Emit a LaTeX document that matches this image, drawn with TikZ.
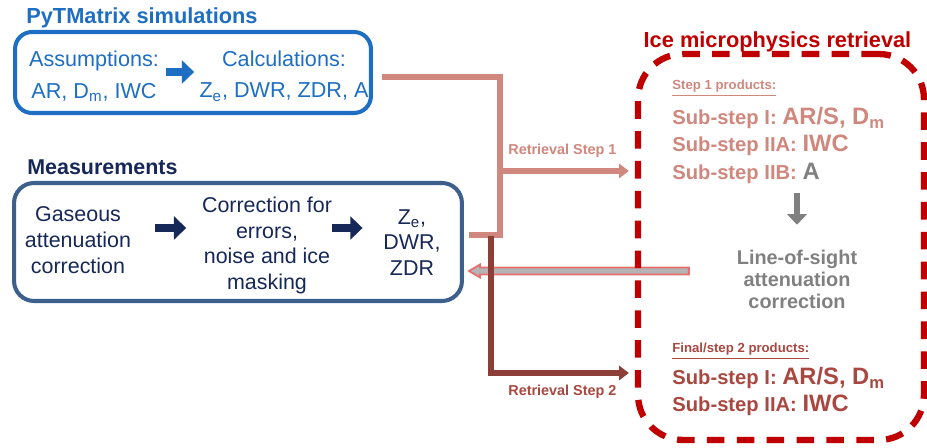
\documentclass[tikz,border=0pt]{standalone}
\usepackage{fontspec}
\setmainfont{Liberation Sans}
\usepackage{xcolor}
\usepackage{tikz}
\usetikzlibrary{positioning,calc,arrows.meta,backgrounds}

\definecolor{pyblue}{RGB}{30,110,195}
\definecolor{navy}{RGB}{22,40,88}
\definecolor{measframe}{RGB}{60,95,140}
\definecolor{salmon}{RGB}{208,135,125}
\definecolor{darkline}{RGB}{140,62,56}
\definecolor{finalred}{RGB}{168,72,64}
\definecolor{icered}{RGB}{192,0,0}
\definecolor{grey}{RGB}{128,128,128}
\definecolor{backgray}{RGB}{180,180,180}
\definecolor{backred}{RGB}{232,110,110}

\newcommand{\setfs}[2]{\fontsize{#1}{#2}\selectfont}

\tikzset{
    roundbox/.style={draw, rounded corners=#1, line width=2.3pt, inner sep=0pt},
    txt/.style={inner sep=0pt, align=center},
    lbl/.style={inner sep=0pt, anchor=base west},
    fat/.style={line width=4.6pt, -{Triangle[length=7pt,width=13pt]}},
    link/.style={line width=2.9pt, line join=miter},
    tip/.style={-{Triangle[length=5.5pt,width=8pt]}},
}

\begin{document}
\begin{tikzpicture}[x=0.02cm, y=-0.02cm]
    \useasboundingbox (0,0) rectangle (927,448);

    % PyTMatrix simulations
    \node[lbl, pyblue, font=\setfs{12.4}{15}\bfseries] (simtitle) at (26,24) {PyTMatrix simulations};
    \node[roundbox=0.34cm, pyblue, minimum width=7.12cm, minimum height=1.62cm] (sim) at (193,72.5) {};
    \node[txt, pyblue, font=\setfs{12.3}{18}] (assume) at (94,76) {Assumptions:\\AR, D\textsubscript{m}, IWC};
    \node[txt, pyblue, font=\setfs{12.3}{18}] (calc) at (284,76) {Calculations:\\Z\textsubscript{e}, DWR, ZDR, A};
    \draw[fat, pyblue] ([shift={(7,-4)}]assume.east) -- ([shift={(-5,-4)}]calc.west);

    % Measurements
    \node[lbl, navy, font=\setfs{12.2}{15}\bfseries] (meastitle) at (27,175) {Measurements};
    \node[roundbox=0.4cm, measframe, minimum width=8.96cm, minimum height=2.36cm] (meas) at (238,242) {};
    \node[txt, navy, font=\setfs{12.2}{14.6}] (gas) at (78,240) {Gaseous\\attenuation\\correction};
    \node[txt, navy, font=\setfs{12.2}{14.6}] (corr) at (267,245.5) {Correction for\\errors,\\noise and ice\\masking};
    \node[txt, navy, font=\setfs{12.2}{14.6}] (zvals) at (412,242.5) {Z\textsubscript{e},\\DWR,\\ZDR};
    \draw[fat, navy] ([shift={(23.5,-12)}]gas.east) -- ([shift={(-15.5,-17.5)}]corr.west);
    \draw[fat, navy] ([shift={(0,-17.5)}]corr.east) -- ([shift={(-20.5,-14.5)}]zvals.west);

    % Ice microphysics retrieval
    \node[anchor=base, inner sep=0pt, icered, font=\setfs{12.4}{15}\bfseries] (icetitle) at (777.5,48) {Ice microphysics retrieval};
    \node[roundbox=0.9cm, icered, line width=3.6pt, dash pattern=on 10pt off 7pt, minimum width=5.72cm, minimum height=7.72cm] (ice) at (781,247) {};

    \node[lbl, salmon, font=\setfs{7.5}{9}\bfseries] (prod1) at (672,90) {\underline{Step 1 products:}};
    \node[lbl, salmon, font=\setfs{11.5}{14}\bfseries] (s1a) at (672,125) {Sub-step I: {\setfs{13.5}{17}AR/S, D\textsubscript{m}}};
    \node[lbl, salmon, font=\setfs{11.5}{14}\bfseries] (s1b) at (672,152) {Sub-step IIA: {\setfs{13.5}{17}IWC}};
    \node[lbl, salmon, font=\setfs{11.5}{14}\bfseries] (s1c) at (672,180) {Sub-step IIB: {\setfs{13.5}{17}\color{grey}A}};

    \node[txt, grey, font=\setfs{11.3}{12.6}\bfseries] (los) at (797,279.5) {Line-of-sight\\attenuation\\correction};
    \draw[line width=3.4pt, grey, -{Triangle[length=6pt,width=11pt]}] ([shift={(0,-57)}]los.north) -- ([shift={(0,-25)}]los.north);

    \node[lbl, finalred, font=\setfs{7.5}{9}\bfseries] (prod2) at (672,353) {\underline{Final/step 2 products:}};
    \node[lbl, finalred, font=\setfs{11.5}{14}\bfseries] (s2a) at (672,385) {Sub-step I: {\setfs{13.5}{17}AR/S, D\textsubscript{m}}};
    \node[lbl, finalred, font=\setfs{11.5}{14}\bfseries] (s2b) at (672,412) {Sub-step IIA: {\setfs{13.5}{17}IWC}};

    % Retrieval steps
    \coordinate (jbot) at (500,235);
    \draw[link, salmon] ([shift={(9,4.5)}]sim.east) -| (jbot) -- ([shift={(5,-7)}]meas.east);

    \coordinate (split1) at (500,171);
    \draw[link, salmon, tip] (split1) -- ([shift={(-6,-76)}]ice.west);
    \node[lbl, salmon, font=\setfs{8.2}{10}\bfseries] (ret1) at (508,155) {Retrieval Step 1};

    \coordinate (split2) at (491,236);
    \draw[link, darkline, tip] (split2) |- ([shift={(-6,126)}]ice.west);
    \node[lbl, finalred, font=\setfs{8.2}{10}\bfseries] (ret2) at (508,396) {Retrieval Step 2};

    % back to the measurements
    \coordinate (bs) at ([shift={(54,24)}]ice.west);
    \coordinate (bt) at ([shift={(5,29)}]meas.east);
    \begin{scope}[on background layer]
        \filldraw[fill=backgray, draw=backred, line width=1pt]
            ($(bs)+(0,-3.5)$) -- ($(bt)+(11,-3.5)$) -- ($(bt)+(11,-6.5)$) -- (bt)
            -- ($(bt)+(11,6.5)$) -- ($(bt)+(11,3.5)$) -- ($(bs)+(0,3.5)$) -- cycle;
    \end{scope}
\end{tikzpicture}
\end{document}
